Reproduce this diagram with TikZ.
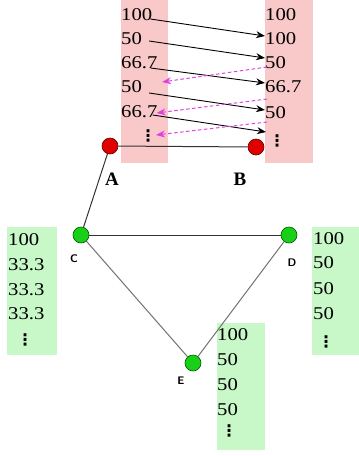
\documentclass[tikz,border=0pt]{standalone}
\usepackage{fontspec}
\setmainfont{Liberation Serif}
\newfontfamily\dejavu{DejaVu Sans}
\usetikzlibrary{arrows.meta}
\definecolor{pinkbg}{HTML}{F9C8C8}
\definecolor{greenbg}{HTML}{C8F7C8}
\definecolor{redn}{HTML}{E00000}
\definecolor{greenn}{HTML}{18D018}
\definecolor{magen}{HTML}{E040E0}
\newcommand{\nm}[1]{\scalebox{1.15}[1]{#1}}
\tikzset{
  num/.style={font=\fontsize{18}{18}\selectfont, inner sep=0pt, anchor=west},
  dotcol/.style={font=\dejavu\bfseries\fontsize{16}{16}\selectfont, inner sep=0pt},
  rednode/.style={circle, fill=redn, draw=red!40!black, line width=0.6pt, minimum size=16pt, inner sep=0pt},
  greennode/.style={circle, fill=greenn, draw=green!35!black, line width=0.6pt, minimum size=16pt, inner sep=0pt},
  biglab/.style={font=\bfseries\fontsize{19}{19}\selectfont, inner sep=0pt},
  smalllab/.style={font=\sffamily\bfseries\fontsize{11}{11}\selectfont, inner sep=0pt},
  blk/.style={-{Stealth[length=9pt,width=7pt]}, line width=0.9pt, black},
  mag/.style={-{Stealth[length=9pt,width=7pt]}, line width=1pt, magen, dash pattern=on 3.5pt off 2.5pt},
  edgedark/.style={line width=1pt, black!80},
  edgegray/.style={line width=1pt, black!55},
}
\begin{document}
\begin{tikzpicture}[x=1pt,y=-1pt]
\useasboundingbox (0,0) rectangle (359,456);
% backgrounds
\fill[pinkbg] (121,0) rectangle (168,163);
\fill[pinkbg] (265,0) rectangle (313,163);
\fill[greenbg] (7,227) rectangle (57,355);
\fill[greenbg] (312,227) rectangle (359,355);
\fill[greenbg] (217,323) rectangle (265,450);
% left pink column
\node[num] (l1) at (121,15) {\nm{100}};
\node[num] (l2) at (121,39) {\nm{50}};
\node[num] (l3) at (121,63) {\nm{66.7}};
\node[num] (l4) at (121,87) {\nm{50}};
\node[num] (l5) at (121,112) {\nm{66.7}};
\node[dotcol] (l6) at (148,136) {⋮};
% right pink column
\node[num] (r1) at (265,15) {\nm{100}};
\node[num] (r2) at (265,39) {\nm{100}};
\node[num] (r3) at (265,63) {\nm{50}};
\node[num] (r4) at (265,87) {\nm{66.7}};
\node[num] (r5) at (265,113) {\nm{50}};
\node[dotcol] (r6) at (277,141) {⋮};
% nodes
\node[rednode] (A) at (110,146) {};
\node[rednode] (B) at (256,147) {};
\node[greennode] (C) at (81,235) {};
\node[greennode] (D) at (289,235) {};
\node[greennode] (E) at (193,363) {};
\draw[edgedark] (A) -- (B);
\draw[edgedark] (A) -- (C);
\draw[edgedark] (C) -- (D);
\draw[edgegray] (C) -- (E);
\draw[edgegray] (E) -- (D);
% arrows (yshift is in canvas direction: negative = downwards)
\draw[blk] ([xshift=-2pt,yshift=-4pt]l1.east) -- ([yshift=3pt]r2.west);
\draw[blk] ([xshift=7pt,yshift=-2pt]l2.east) -- ([yshift=5pt]r3.west);
\draw[blk] ([xshift=-7pt,yshift=-5pt]l3.east) -- ([yshift=4pt]r4.west);
\draw[blk] ([xshift=7pt,yshift=-6pt]l4.east) -- ([yshift=3pt]r5.west);
\draw[blk] ([xshift=-5pt,yshift=-3pt]l5.east) -- ([xshift=-11pt,yshift=9pt]r6.center);
\draw[mag] ([xshift=2pt,yshift=-4pt]r3.west) -- ([xshift=20pt,yshift=5pt]l4.east);
\draw[mag] ([xshift=2pt,yshift=-12pt]r4.west) -- ([xshift=-1pt,yshift=-1pt]l5.east);
\draw[mag] ([xshift=2pt,yshift=-9pt]r5.west) -- ([xshift=8pt,yshift=1pt]l6.center);
% labels
\node[biglab] (la) at (112,179) {A};
\node[biglab] (lb) at (240,179) {B};
\node[smalllab] (lc) at (74,259) {C};
\node[smalllab] (ld) at (292,263) {D};
\node[smalllab] (le) at (181,381) {E};
% green C column
\node[num] (c1) at (8,240) {\nm{100}};
\node[num] (c2) at (8,265) {\nm{33.3}};
\node[num] (c3) at (8,290) {\nm{33.3}};
\node[num] (c4) at (8,314) {\nm{33.3}};
\node[dotcol] (c5) at (25,340) {⋮};
% green D column
\node[num] (d1) at (313,239) {\nm{100}};
\node[num] (d2) at (313,263) {\nm{50}};
\node[num] (d3) at (313,289) {\nm{50}};
\node[num] (d4) at (313,314) {\nm{50}};
\node[dotcol] (d5) at (326,342) {⋮};
% green E column
\node[num] (e1) at (217,335) {\nm{100}};
\node[num] (e2) at (217,360) {\nm{50}};
\node[num] (e3) at (217,385) {\nm{50}};
\node[num] (e4) at (217,410) {\nm{50}};
\node[dotcol] (e5) at (229,431) {⋮};
\end{tikzpicture}
\end{document}
